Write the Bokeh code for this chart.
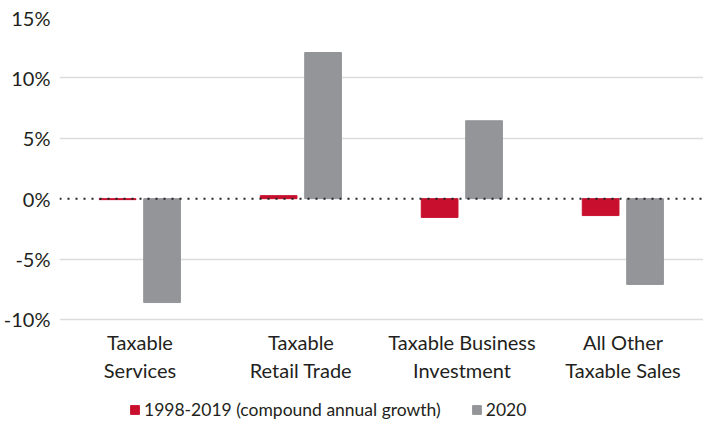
from bokeh.plotting import figure
from bokeh.models import FactorRange, Range1d, Span, Legend, LegendItem, FixedTicker, ColumnDataSource
from bokeh.core.properties import value
from bokeh.transform import dodge
from bokeh.embed import file_html
from bokeh.resources import INLINE

categories = ["Taxable\nServices", "Taxable\nRetail Trade", "Taxable Business\nInvestment", "All Other\nTaxable Sales"]
growth_1998_2019 = [-0.08, 0.25, -1.55, -1.4]
growth_2020 = [-8.6, 12.1, 6.45, -7.1]
y_ticks = [-10, -5, 0, 5, 10, 15]
series_names = ["1998-2019 (compound annual growth)", "2020"]

RED = "#c8102e"
GRAY = "#939598"
FONT = "Lato"
TXT = "#231f20"

src = ColumnDataSource(dict(cat=categories, a=growth_1998_2019, b=growth_2020,
                            label_y=[-10.9] * len(categories)))

p = figure(frame_width=644, frame_height=404, output_backend="svg", toolbar_location=None,
           x_range=FactorRange(*categories, range_padding=0),
           y_range=Range1d(-18.45, 15),
           min_border_top=17, min_border_left=58, min_border_right=0, min_border_bottom=0)
p.outline_line_color = None

r1 = p.vbar(x=dodge("cat", -0.139, range=p.x_range), top="a", width=0.228, source=src,
            fill_color=RED, line_color=RED)
r2 = p.vbar(x=dodge("cat", 0.137, range=p.x_range), top="b", width=0.228, source=src,
            fill_color=GRAY, line_color=GRAY)

zero = Span(location=0, dimension="width", line_color="#222222", line_width=2,
            line_dash="2 6", level="overlay")
p.add_layout(zero)

# category labels (two lines each), placed under the -10% line
p.text(x="cat", y="label_y", text="cat", source=src, text_align="center",
       text_baseline="top", text_font=value(FONT), text_font_size="20px",
       text_color=TXT, text_line_height=1.15)

p.xaxis.visible = False
p.xgrid.visible = False
p.ygrid.ticker = FixedTicker(ticks=[t for t in y_ticks if t != 0])
p.ygrid.grid_line_color = "#dcdcdc"
p.ygrid.grid_line_width = 1.5

p.yaxis.ticker = FixedTicker(ticks=y_ticks)
p.yaxis.major_label_overrides = {t: f"{t}%" for t in y_ticks}
p.yaxis.axis_line_color = None
p.yaxis.major_tick_line_color = None
p.yaxis.minor_tick_line_color = None
p.yaxis.major_tick_out = 0
p.yaxis.major_tick_in = 0
p.yaxis.minor_tick_out = 0
p.yaxis.major_label_text_font = FONT
p.yaxis.major_label_text_font_size = "20px"
p.yaxis.major_label_text_color = TXT
p.yaxis.major_label_standoff = 9

legend = Legend(items=[LegendItem(label=series_names[0], renderers=[r1]),
                       LegendItem(label=series_names[1], renderers=[r2])],
                orientation="horizontal", location=(70, 1))
legend.border_line_color = None
legend.background_fill_alpha = 0
legend.label_text_font = FONT
legend.label_text_font_size = "17.5px"
legend.label_text_color = TXT
legend.glyph_width = 11
legend.glyph_height = 11
legend.spacing = 30
legend.label_standoff = 4
legend.margin = 0
legend.padding = 2
p.add_layout(legend, "center")

open("out.html", "w").write(file_html(p, INLINE))
